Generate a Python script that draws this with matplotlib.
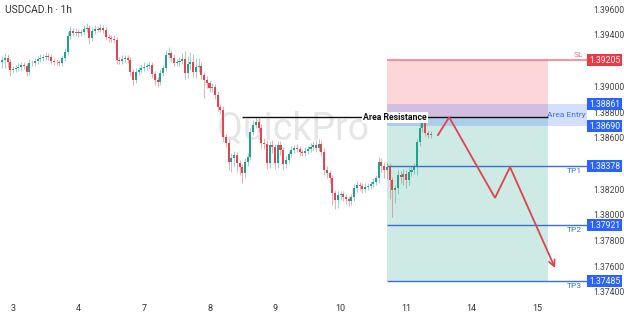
import matplotlib
matplotlib.use('Agg')
import matplotlib.pyplot as plt
import matplotlib.transforms as mtransforms
from matplotlib.patches import Rectangle

plt.rcParams['font.family'] = ['Roboto', 'DejaVu Sans']

# ---------------- data ----------------
title = 'USDCAD.h · 1h'
first_hour = -4            # hourly candles, hours counted from day "3" 00:00 (trading time)
first_open = 1.39190
closes = [
    1.39205, 1.39221, 1.39190, 1.39127, 1.39135, 1.39143, 1.39151, 1.39166, 1.39158, 1.39112,
    1.39182, 1.39178, 1.39197, 1.39213, 1.39221, 1.39228, 1.39236, 1.39232, 1.39197, 1.39190,
    1.39186, 1.39182, 1.39221, 1.39267, 1.39392, 1.39431, 1.39415, 1.39423, 1.39415, 1.39423,
    1.39446, 1.39454, 1.39376, 1.39431, 1.39446, 1.39440, 1.39454, 1.39439, 1.39384, 1.39376,
    1.39369, 1.39361, 1.39205, 1.39197, 1.39213, 1.39221, 1.39205, 1.39112, 1.39049, 1.39112,
    1.39127, 1.39143, 1.39151, 1.39158, 1.39166, 1.39096, 1.39049, 1.39034, 1.39104, 1.39143,
    1.39244, 1.39260, 1.39221, 1.39182, 1.39190, 1.39197, 1.39213, 1.39104, 1.39174, 1.39190,
    1.39112, 1.39151, 1.39158, 1.39088, 1.39049, 1.39026, 1.38987, 1.38995, 1.38933, 1.38839,
    1.38816, 1.38606, 1.38559, 1.38411, 1.38442, 1.38466, 1.38404, 1.38372, 1.38326, 1.38411,
    1.38450, 1.38645, 1.38699, 1.38723, 1.38676, 1.38559, 1.38552, 1.38404, 1.38544, 1.38528,
    1.38404, 1.38544, 1.38505, 1.38396, 1.38427, 1.38474, 1.38505, 1.38520, 1.38513, 1.38489,
    1.38481, 1.38497, 1.38513, 1.38528, 1.38544, 1.38520, 1.38551, 1.38489, 1.38349, 1.38326,
    1.38287, 1.38170, 1.38116, 1.38155, 1.38162, 1.38139, 1.38123, 1.38108, 1.38139, 1.38209,
    1.38232, 1.38225, 1.38201, 1.38217, 1.38225, 1.38240, 1.38256, 1.38287, 1.38411, 1.38380,
    1.38349, 1.38372, 1.38271, 1.38193, 1.38209, 1.38310, 1.38295, 1.38318, 1.38271, 1.38334,
    1.38349, 1.38372, 1.38567, 1.38676, 1.38723, 1.38637, 1.38621, 1.38629,
]
wick_up_pips = [
    3, 4, 3, 2, 2, 2, 3, 2, 2, 2,
    3, 2, 2, 2, 3, 2, 3, 2, 2, 2,
    2, 2, 2, 3, 3, 4, 2, 3, 2, 2,
    3, 4, 2, 3, 3, 2, 3, 2, 2, 2,
    2, 3, 2, 2, 3, 2, 2, 2, 2, 3,
    2, 3, 4, 2, 3, 2, 2, 2, 3, 2,
    4, 5, 2, 3, 2, 3, 5, 6, 6, 8,
    6, 7, 6, 3, 2, 3, 2, 3, 2, 3,
    2, 3, 2, 3, 4, 3, 2, 2, 2, 3,
    3, 3, 4, 4, 3, 3, 4, 3, 3, 4,
    2, 3, 3, 2, 3, 2, 3, 2, 3, 2,
    2, 3, 2, 3, 3, 4, 4, 3, 3, 3,
    2, 2, 2, 3, 2, 2, 2, 2, 2, 3,
    3, 2, 2, 3, 2, 2, 3, 2, 4, 3,
    3, 4, 3, 2, 2, 4, 3, 4, 3, 4,
    4, 3, 2, 3, 4, 3, 2, 2,
]
wick_lo_pips = [
    5, 6, 5, 5, 2, 2, 2, 3, 2, 3,
    2, 2, 2, 2, 2, 2, 2, 3, 2, 2,
    2, 2, 2, 2, 2, 2, 2, 2, 3, 2,
    2, 2, 5, 2, 2, 2, 2, 2, 2, 3,
    2, 2, 3, 2, 2, 2, 2, 3, 4, 2,
    2, 2, 2, 2, 2, 3, 4, 4, 2, 2,
    2, 2, 3, 2, 2, 3, 2, 5, 4, 5,
    4, 5, 4, 3, 14, 4, 3, 3, 3, 3,
    3, 4, 3, 6, 8, 6, 7, 6, 8, 4,
    3, 2, 2, 2, 3, 4, 4, 5, 4, 5,
    5, 4, 4, 5, 3, 2, 2, 2, 2, 3,
    2, 2, 2, 2, 2, 3, 2, 3, 4, 4,
    4, 9, 7, 6, 4, 3, 4, 4, 3, 3,
    3, 3, 3, 2, 2, 2, 3, 2, 4, 5,
    6, 7, 15, 21, 10, 5, 5, 6, 6, 4,
    3, 3, 6, 3, 3, 2, 2, 2,
]
day_labels = ['3', '4', '7', '8', '9', '10', '11', '14', '15']
day_start_hours = [0, 24, 48, 72, 96, 120, 144, 168, 192]
price_ticks = [1.396, 1.394, 1.390, 1.388, 1.386, 1.382, 1.380, 1.378, 1.376, 1.374]

sl_level = 1.39205
entry_level = 1.38760
zone_top = 1.38861
zone_bottom = 1.38690
tp_levels = [1.38378, 1.37921, 1.37485]
tp_names = ['TP1', 'TP2', 'TP3']
proj_hours = [155.7, 159.8, 176.6, 182.1, 198.6]
proj_prices = [1.38621, 1.38760, 1.38132, 1.38372, 1.37586]

# trade-setup geometry (hours)
box_start, box_end = 137.0, 196.0
resist_start = 83.9
x_min, x_max = -4.76, 210.3
y_min, y_max = 1.37353, 1.39672

# ---------------- styles ----------------
UP = '#22a08a'
DN = '#e5434f'
BLUE = '#2962ff'
RED = '#f23645'
TXT = '#333333'

fig = plt.figure(figsize=(6.24, 3.16), dpi=100)
ax = fig.add_axes([0, 18 / 316, 587 / 624, 298 / 316])
ax.set_xlim(x_min, x_max)
ax.set_ylim(y_min, y_max)
for s in ax.spines.values():
    s.set_visible(False)

blend = mtransforms.blended_transform_factory(ax.transAxes, ax.transData)

# risk / reward boxes
ax.add_patch(Rectangle((box_start, entry_level), box_end - box_start, sl_level - entry_level,
                       facecolor=(242/255, 54/255, 69/255, 0.2), edgecolor='none', zorder=1))
ax.add_patch(Rectangle((box_start, tp_levels[-1]), box_end - box_start, entry_level - tp_levels[-1],
                       facecolor=(8/255, 153/255, 129/255, 0.2), edgecolor='none', zorder=1))
ax.add_patch(Rectangle((box_start, zone_bottom), x_max - box_start, zone_top - zone_bottom,
                       facecolor=(41/255, 98/255, 255/255, 0.2), edgecolor='none', zorder=1.5))

# watermark
ax.text(0.499, 0.567, 'QuickPro', transform=ax.transAxes, ha='center', va='center',
        fontsize=27, color='#e6e6e6', zorder=0.5)

# candles
for i, c in enumerate(closes):
    h = first_hour + i
    o = first_open if i == 0 else closes[i - 1]
    hi = max(o, c) + wick_up_pips[i] * 1e-4
    lo = min(o, c) - wick_lo_pips[i] * 1e-4
    col = UP if c >= o else DN
    ax.vlines(h, lo, hi, color=col, lw=0.7, alpha=0.45, zorder=3)
    body = max(abs(c - o), 0.00004)
    ax.bar(h, body, bottom=min(o, c), width=0.75, color=col, linewidth=0, zorder=4)

# levels
ax.hlines(sl_level, box_start, x_max, color='#f07680', lw=1.1, zorder=5)
for lv in tp_levels:
    ax.hlines(lv, box_start, x_max, color='#3b6fd8', lw=1.0, zorder=5)
ax.hlines(entry_level, resist_start, box_end, color='#111111', lw=1.0, zorder=5)
ax.text(140, entry_level, 'Area Resistance', ha='center', va='center', fontsize=6.3,
        fontweight='bold', color='#111111', zorder=6,
        bbox=dict(facecolor='white', edgecolor='none', pad=0.6))

# labels inside plot
ax.text(0.993, sl_level + 0.00012, 'SL', transform=blend, ha='right', va='bottom',
        fontsize=6, color='#e5727c', zorder=6)
for lv, nm in zip(tp_levels, tp_names):
    ax.text(0.991, lv - 0.00012, nm, transform=blend, ha='right', va='top',
            fontsize=6, color='#3b6fd8', zorder=6)
ax.text(0.964, (zone_top + zone_bottom) / 2, 'Area Entry', transform=blend, ha='center',
        va='center', fontsize=6, color='#3f72dc', zorder=6)

# projection arrow
ax.plot(proj_hours[:-1], proj_prices[:-1], color='#e0434f', lw=1.3, zorder=6,
        solid_joinstyle='miter')
ax.annotate('', xy=(proj_hours[-1], proj_prices[-1]), xytext=(proj_hours[-2], proj_prices[-2]),
            arrowprops=dict(arrowstyle='->', color='#e0434f', lw=1.3, mutation_scale=11,
                            shrinkA=0, shrinkB=0), zorder=6)

# axes ticks
ax.yaxis.tick_right()
ax.set_yticks(price_ticks)
ax.set_yticklabels([f'{p:.5f}' for p in price_ticks])
ax.tick_params(axis='y', length=0, pad=4.3, labelsize=6.2, labelcolor='#444444')
ax.set_xticks(day_start_hours)
ax.set_xticklabels(day_labels)
ax.tick_params(axis='x', length=0, pad=4.0, labelsize=6.5, labelcolor=TXT)

# price tags on the axis
tag_h = 0.00092
tags = [(sl_level, RED)] + [(zone_top, BLUE), (zone_bottom, BLUE)] + [(lv, BLUE) for lv in tp_levels]
for lv, col in tags:
    ax.add_patch(Rectangle((1.0, lv - tag_h / 2), 0.0596, tag_h, transform=blend,
                           facecolor=col, edgecolor='none', clip_on=False, zorder=10))
    ax.text(1.0298, lv, f'{lv:.5f}', transform=blend, ha='center', va='center',
            fontsize=6.2, color='white', zorder=11, clip_on=False)

# title
fig.text(5 / 624, 1 - 10 / 316, title, ha='left', va='center', fontsize=7.4, color=TXT)

fig.savefig('out.png', dpi=100, facecolor='white')
